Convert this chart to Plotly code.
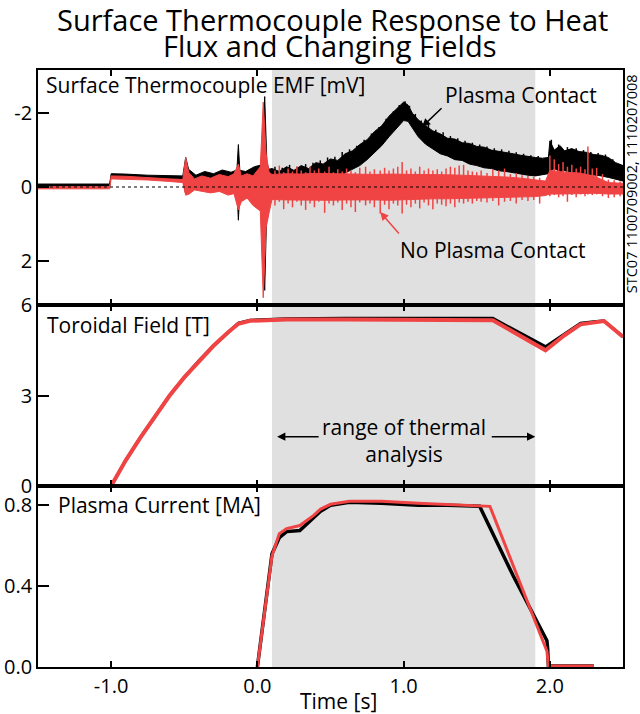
import plotly.graph_objects as go
from plotly.subplots import make_subplots

# ---------------- data ----------------
# Surface thermocouple EMF [mV]; noisy signals given as envelope bands (min / max)
# plus individual noise spikes (time, min, max)
EMF_PC_T = [-1.50, -1.01, -1.00, -0.90, -0.75, -0.60, -0.51, -0.49, -0.47, -0.42, -0.36, -0.30,
            -0.24, -0.18, -0.14, -0.13, -0.12, -0.08, -0.02, 0.03, 0.05, 0.065, 0.08,
            0.10, 0.15, 0.20, 0.25, 0.30, 0.35, 0.40, 0.45, 0.50, 0.55, 0.60, 0.65, 0.70, 0.75,
            0.80, 0.85, 0.90, 0.95, 1.00, 1.03, 1.06, 1.10, 1.15, 1.20, 1.25, 1.30, 1.35, 1.40,
            1.45, 1.50, 1.55, 1.60, 1.65, 1.70, 1.75, 1.80, 1.85, 1.90, 1.95, 1.99, 2.00, 2.03,
            2.07, 2.10, 2.15, 2.20, 2.25, 2.30, 2.35, 2.40, 2.45, 2.50]
EMF_PC_LO = [-0.08, -0.08, -0.36, -0.35, -0.32, -0.30, -0.30, -0.80, -0.48, -0.32, -0.42, -0.36,
             -0.46, -0.40, -0.46, -1.15, -0.45, -0.42, -0.55, -0.60, -2.45, -0.65, -0.48,
             -0.50, -0.42, -0.55, -0.45, -0.58, -0.50, -0.66, -0.62, -0.76, -0.72, -0.90, -0.98,
             -1.15, -1.28, -1.50, -1.66, -1.92, -2.10, -2.30, -2.22, -2.00, -1.82, -1.66, -1.52,
             -1.44, -1.32, -1.30, -1.20, -1.18, -1.10, -1.08, -1.00, -0.98, -0.94, -0.90, -0.86,
             -0.82, -0.80, -0.78, -0.80, -1.25, -1.00, -1.12, -0.98, -1.04, -0.96, -0.94, -0.88,
             -0.86, -0.80, -0.66, -0.58]
EMF_PC_HI = [-0.02, -0.02, -0.29, -0.28, -0.25, -0.23, -0.22, 0.20, 0.08, -0.02, -0.04, -0.02,
             -0.04, 0.00, -0.02, 0.90, 0.12, 0.05, 0.08, 0.12, 2.80, 0.45, 0.10,
             0.08, 0.02, 0.06, 0.00, 0.03, -0.04, -0.02, -0.12, -0.18, -0.28, -0.36, -0.46,
             -0.58, -0.74, -0.92, -1.12, -1.36, -1.58, -1.80, -1.78, -1.60, -1.36, -1.16, -1.02,
             -0.90, -0.84, -0.74, -0.72, -0.62, -0.58, -0.52, -0.50, -0.44, -0.42, -0.38, -0.36,
             -0.32, -0.30, -0.34, -0.36, -0.42, -0.50, -0.42, -0.44, -0.40, -0.38, -0.36, -0.34,
             -0.30, -0.26, -0.20, -0.16]
PC_SPIKE_T = [0.12, 0.17, 0.22, 0.27, 0.33, 0.38, 0.43, 0.48, 0.53, 0.58, 0.63, 0.68, 0.73,
              0.78, 0.83, 0.88, 0.93, 0.97, 1.01, 1.04, 1.08, 1.12, 1.17, 1.22, 1.27, 1.32,
              1.37, 1.42, 1.47, 1.52, 1.57, 1.62, 1.67, 1.72, 1.77, 1.82, 1.87, 1.92, 2.01,
              2.06, 2.12, 2.18, 2.23, 2.28, 2.33, 2.38, 2.43, 2.48]
PC_SPIKE_LO = [-0.55, -0.52, -0.60, -0.55, -0.62, -0.66, -0.72, -0.80, -0.82, -0.95, -1.02,
               -1.12, -1.28, -1.45, -1.62, -1.85, -2.05, -2.22, -2.32, -2.20, -1.98, -1.80,
               -1.68, -1.55, -1.48, -1.38, -1.32, -1.25, -1.20, -1.15, -1.10, -1.05, -1.02,
               -0.98, -0.94, -0.90, -0.86, -0.84, -1.28, -1.15, -1.08, -1.05, -1.00, -0.95,
               -0.92, -0.88, -0.75, -0.62]
PC_SPIKE_HI = [-0.20, -0.20, -0.20, -0.20, -0.25, -0.30, -0.30, -0.40, -0.40, -0.50, -0.60,
               -0.70, -0.80, -1.00, -1.20, -1.40, -1.60, -1.80, -1.90, -1.80, -1.60, -1.40,
               -1.20, -1.10, -1.00, -0.90, -0.85, -0.80, -0.75, -0.70, -0.65, -0.60, -0.55,
               -0.50, -0.50, -0.45, -0.45, -0.45, -0.60, -0.60, -0.60, -0.55, -0.55, -0.50,
               -0.50, -0.45, -0.40, -0.30]

EMF_NC_T = [-1.50, -1.01, -1.00, -0.90, -0.75, -0.60, -0.51, -0.49, -0.47, -0.43, -0.38, -0.32,
            -0.26, -0.20, -0.16, -0.13, -0.11, -0.07, -0.03, 0.02, 0.04, 0.06, 0.08,
            0.10, 0.20, 0.30, 0.40, 0.50, 0.60, 0.70, 0.80, 0.90, 1.00, 1.10, 1.20, 1.30,
            1.40, 1.50, 1.60, 1.70, 1.80, 1.90, 1.97, 2.00, 2.10, 2.20, 2.30, 2.40, 2.50]
EMF_NC_LO = [-0.01, -0.01, -0.30, -0.29, -0.26, -0.22, -0.20, -0.80, -0.40, -0.22, -0.30, -0.24,
             -0.34, -0.28, -0.36, -0.62, -0.30, -0.36, -0.30, -0.55, -2.30, -0.90, -0.40,
             -0.34, -0.36, -0.35, -0.37, -0.35, -0.36, -0.35, -0.34, -0.35, -0.36, -0.34,
             -0.34, -0.33, -0.32, -0.31, -0.29, -0.27, -0.24, -0.20, -0.16, -0.45, -0.40,
             -0.38, -0.30, -0.12, -0.10]
EMF_NC_HI = [0.05, 0.05, -0.22, -0.21, -0.19, -0.15, -0.12, 0.22, 0.20, 0.08, 0.12, 0.16,
             0.12, 0.22, 0.18, 0.62, 0.40, 0.30, 0.50, 0.65, 3.00, 1.10, 0.70,
             0.34, 0.35, 0.36, 0.35, 0.36, 0.35, 0.34, 0.35, 0.36, 0.34, 0.33, 0.32, 0.32,
             0.31, 0.30, 0.29, 0.28, 0.27, 0.26, 0.23, 0.19, 0.19, 0.18, 0.17, 0.19, 0.19]
NC_SPIKE_T = [0.12, 0.15, 0.18, 0.21, 0.24, 0.27, 0.30, 0.33, 0.36, 0.39, 0.42, 0.46, 0.49,
              0.52, 0.55, 0.58, 0.61, 0.64, 0.67, 0.70, 0.74, 0.77, 0.80, 0.84, 0.87, 0.90,
              0.93, 0.96, 0.99, 1.02, 1.05, 1.08, 1.11, 1.14, 1.17, 1.20, 1.23, 1.26, 1.29,
              1.32, 1.35, 1.38, 1.41, 1.44, 1.47, 1.50, 1.53, 1.57, 1.61, 1.65, 1.69, 1.73,
              1.77, 1.81, 1.85, 1.89, 1.93, 2.00, 2.03, 2.06, 2.09, 2.12, 2.15, 2.18, 2.21,
              2.24, 2.26, 2.29, 2.32, 2.36, 2.40, 2.44, 2.48]
NC_SPIKE_LO = [-0.45, -0.58, -0.40, -0.50, -0.42, -0.55, -0.45, -0.40, -0.55, -0.45, -0.50,
               -0.42, -0.55, -0.40, -0.48, -0.42, -0.50, -0.45, -0.40, -0.52, -0.55, -0.42,
               -0.48, -0.45, -0.52, -0.45, -0.50, -0.55, -0.68, -0.45, -0.50, -0.42, -0.55,
               -0.45, -0.50, -0.45, -0.48, -0.42, -0.50, -0.55, -0.52, -0.58, -0.60, -0.45,
               -0.42, -0.40, -0.45, -0.38, -0.48, -0.45, -0.50, -0.35, -0.38, -0.32, -0.30,
               -0.28, -0.25, -0.85, -0.75, -0.62, -0.68, -0.55, -0.60, -0.50, -0.55, -0.48,
               -1.10, -0.50, -0.52, -0.35, -0.20, -0.18, -0.15]
NC_SPIKE_HI = [0.50, 0.40, 0.60, 0.45, 0.55, 0.40, 0.50, 0.62, 0.45, 0.55, 0.40, 0.70, 0.45,
               0.50, 0.42, 0.62, 0.45, 0.55, 0.68, 0.42, 0.50, 0.45, 0.55, 0.72, 0.48, 0.60,
               0.45, 0.50, 0.72, 0.48, 0.55, 0.45, 0.58, 0.42, 0.50, 0.60, 0.45, 0.48, 0.52,
               0.45, 0.55, 0.42, 0.45, 0.40, 0.45, 0.38, 0.40, 0.42, 0.38, 0.50, 0.40, 0.38,
               0.45, 0.35, 0.38, 0.35, 0.45, 0.25, 0.22, 0.28, 0.25, 0.40, 0.22, 0.28, 0.20,
               0.25, 0.20, 0.22, 0.20, 0.25, 0.30, 0.28, 0.25]

# Toroidal field [T]
TF_T = [-1.00, -0.90, -0.80, -0.70, -0.60, -0.50, -0.40, -0.30, -0.20, -0.13, -0.05, 0.20,
        0.60, 1.00, 1.40, 1.61, 1.97, 2.10, 2.21, 2.30, 2.37, 2.50]
TF_PC = [0.00, 0.85, 1.60, 2.30, 3.00, 3.60, 4.15, 4.65, 5.10, 5.40, 5.50, 5.55,
         5.56, 5.56, 5.56, 5.56, 4.62, 5.05, 5.40, 5.45, 5.48, 4.95]
TF_NC = [0.00, 0.85, 1.60, 2.30, 3.00, 3.60, 4.15, 4.65, 5.10, 5.38, 5.48, 5.52,
         5.52, 5.52, 5.52, 5.50, 4.50, 5.00, 5.36, 5.43, 5.47, 4.95]

# Plasma current [MA]
IP_PC_T = [0.00, 0.10, 0.15, 0.20, 0.29, 0.385, 0.43, 0.50, 0.63, 0.85, 1.10, 1.30, 1.52,
           1.75, 1.98, 1.985, 1.99, 2.30]
IP_PC = [0.00, 0.56, 0.64, 0.67, 0.675, 0.74, 0.77, 0.80, 0.815, 0.81, 0.80, 0.80, 0.795,
         0.45, 0.13, 0.09, 0.005, 0.005]
IP_NC_T = [0.00, 0.10, 0.15, 0.20, 0.29, 0.385, 0.43, 0.50, 0.63, 0.85, 1.10, 1.30, 1.50,
           1.59, 1.98, 1.99, 2.30]
IP_NC = [0.00, 0.55, 0.66, 0.685, 0.70, 0.75, 0.78, 0.805, 0.82, 0.82, 0.81, 0.805, 0.80,
         0.795, 0.078, 0.005, 0.005]

ANALYSIS_RANGE = [0.1, 1.9]
X_TICKS = [-1.0, 0.0, 1.0, 2.0]
X_TICK_LABELS = ["-1.0", "0.0", "1.0", "2.0"]
EMF_TICKS = [-2, 0, 2]
EMF_TICK_LABELS = ["-2", "0", "2"]
TF_TICKS = [0, 3, 6]
IP_TICKS = [0.0, 0.4, 0.8]
IP_TICK_LABELS = ["0.0", "0.4", "0.8"]

BLACK = "#000000"
RED = "#f04444"
GRAY = "#e0e0e0"
FONT = "Open Sans"

fig = make_subplots(rows=3, cols=1, shared_xaxes=True, vertical_spacing=0)


def band(t, lo, hi):
    return list(t) + list(t)[::-1], list(hi) + list(lo)[::-1]


def spikes(t, lo, hi):
    xs, ys = [], []
    for ti, a, b in zip(t, lo, hi):
        xs += [ti, ti, None]
        ys += [a, b, None]
    return xs, ys


for t, lo, hi, st, slo, shi, col in [
        (EMF_PC_T, EMF_PC_LO, EMF_PC_HI, PC_SPIKE_T, PC_SPIKE_LO, PC_SPIKE_HI, BLACK),
        (EMF_NC_T, EMF_NC_LO, EMF_NC_HI, NC_SPIKE_T, NC_SPIKE_LO, NC_SPIKE_HI, RED)]:
    bx, by = band(t, lo, hi)
    fig.add_trace(go.Scatter(x=bx, y=by, fill="toself", fillcolor=col, mode="lines",
                             line=dict(color=col, width=1), hoverinfo="skip",
                             showlegend=False), row=1, col=1)
    sx, sy = spikes(st, slo, shi)
    fig.add_trace(go.Scatter(x=sx, y=sy, mode="lines", line=dict(color=col, width=1.5),
                             hoverinfo="skip", showlegend=False), row=1, col=1)

fig.add_trace(go.Scatter(x=TF_T, y=TF_PC, mode="lines", line=dict(color=BLACK, width=3),
                         showlegend=False), row=2, col=1)
fig.add_trace(go.Scatter(x=TF_T, y=TF_NC, mode="lines", line=dict(color=RED, width=4),
                         showlegend=False), row=2, col=1)
fig.add_trace(go.Scatter(x=IP_PC_T, y=IP_PC, mode="lines", line=dict(color=BLACK, width=3.5),
                         showlegend=False), row=3, col=1)
fig.add_trace(go.Scatter(x=IP_NC_T, y=IP_NC, mode="lines", line=dict(color=RED, width=3),
                         showlegend=False), row=3, col=1)

# shaded range of thermal analysis
fig.add_shape(type="rect", xref="x", yref="paper", x0=ANALYSIS_RANGE[0], x1=ANALYSIS_RANGE[1],
              y0=0, y1=1, fillcolor=GRAY, line_width=0, layer="below")
# zero reference line in top panel
fig.add_shape(type="line", xref="x domain", yref="y", x0=0, x1=1, y0=0, y1=0,
              line=dict(color=BLACK, width=1, dash="dot"), layer="above")

tickfont = dict(family=FONT, size=20, color=BLACK)
common = dict(showline=True, linecolor=BLACK, linewidth=1.8, showgrid=False, zeroline=False,
              automargin=False, tickfont=tickfont, tickcolor=BLACK, tickwidth=1.5,
              ticks="inside")

for r in (1, 2, 3):
    fig.update_xaxes(range=[-1.5, 2.5], tickvals=X_TICKS, ticktext=X_TICK_LABELS,
                     ticklen=6, mirror="ticks", showticklabels=(r == 3),
                     row=r, col=1, **common)

fig.update_yaxes(range=[3.2, -3.17], tickvals=EMF_TICKS, ticktext=EMF_TICK_LABELS,
                 ticklen=11, mirror=True, domain=[0.6062, 1.0], row=1, col=1, **common)
fig.update_yaxes(range=[0, 6], tickvals=TF_TICKS, ticklen=11, mirror=True,
                 domain=[0.3033, 0.6062], row=2, col=1, **common)
fig.update_yaxes(range=[0, 0.896], tickvals=IP_TICKS, ticktext=IP_TICK_LABELS,
                 ticklen=11, mirror=True, domain=[0.0, 0.3033], row=3, col=1, **common)

lab = dict(family=FONT, size=21, color=BLACK)
ttl = dict(family=FONT, size=29, color=BLACK)
ann = [
    dict(text="Surface Thermocouple Response to Heat", xref="paper", yref="paper",
         x=0.503, y=1.0838, xanchor="center", yanchor="middle", showarrow=False, font=ttl),
    dict(text="Flux and Changing Fields", xref="paper", yref="paper",
         x=0.4994, y=1.0405, xanchor="center", yanchor="middle", showarrow=False, font=ttl),
    dict(text="Surface Thermocouple EMF [mV]", xref="paper", yref="paper", x=0.0103, y=0.975,
         xanchor="left", yanchor="middle", showarrow=False, font=lab),
    dict(text="Toroidal Field [T]", xref="paper", yref="paper", x=0.0115, y=0.5727,
         xanchor="left", yanchor="middle", showarrow=False, font=lab),
    dict(text="Plasma Current [MA]", xref="paper", yref="paper", x=0.0308, y=0.271,
         xanchor="left", yanchor="middle", showarrow=False, font=lab),
    dict(text="Plasma Contact", xref="x", yref="y", x=1.80, y=-2.49, showarrow=False, font=lab),
    dict(text="", xref="x", yref="y", x=1.126, y=-1.63, ax=21, ay=-20, showarrow=True,
         arrowhead=2, arrowsize=1.1, arrowwidth=1.5, arrowcolor=BLACK),
    dict(text="No Plasma Contact", xref="x", yref="y", x=1.61, y=1.72, showarrow=False, font=lab),
    dict(text="", xref="x", yref="y", x=0.84, y=0.68, ax=20, ay=23, showarrow=True,
         arrowhead=2, arrowsize=1.1, arrowwidth=1.5, arrowcolor=RED),
    dict(text="range of thermal<br>analysis", xref="x2", yref="y2", x=1.0, y=1.52,
         showarrow=False, font=lab),
    dict(text="", xref="x2", yref="y2", x=0.135, y=1.635, ax=43, ay=0, showarrow=True,
         arrowhead=2, arrowsize=1.1, arrowwidth=1.5, arrowcolor=BLACK),
    dict(text="", xref="x2", yref="y2", x=1.9, y=1.635, ax=-45, ay=0, showarrow=True,
         arrowhead=2, arrowsize=1.1, arrowwidth=1.5, arrowcolor=BLACK),
    dict(text="STC07 1100709002, 1110207008", xref="paper", yref="paper", x=1.014, y=0.809,
         xanchor="center", yanchor="middle", textangle=-90, showarrow=False,
         font=dict(family=FONT, size=14.5, color=BLACK)),
    dict(text="Time [s]", xref="paper", yref="paper", x=0.513, y=-0.0575, xanchor="center",
         yanchor="middle", showarrow=False, font=lab),
]

fig.update_layout(
    width=640, height=714,
    margin=dict(l=38, r=17, t=70, b=47),
    paper_bgcolor="white", plot_bgcolor="white",
    annotations=ann,
    showlegend=False,
)

fig.write_html("out.html", config={"displayModeBar": False},
               post_script="document.body.style.margin='0px';")
